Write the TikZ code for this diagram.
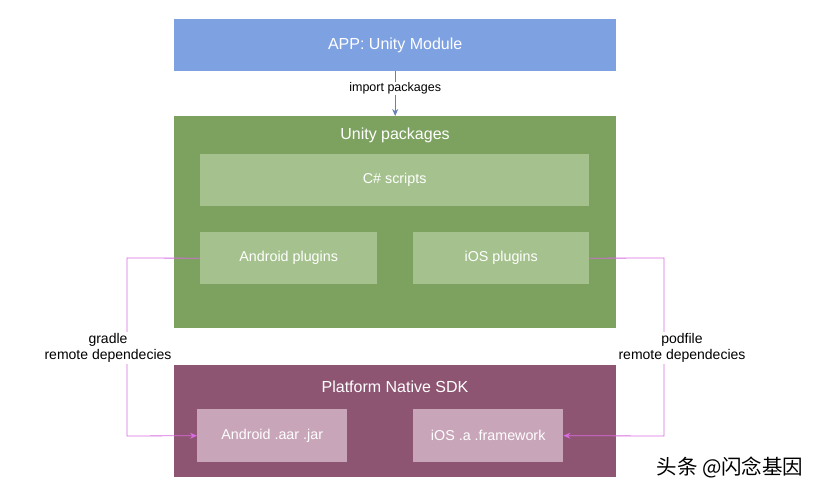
\documentclass[tikz,border=0pt]{standalone}
\usepackage{fontspec}
\setmainfont{Liberation Sans}
\newfontfamily\cjk{Noto Sans CJK SC}
\usetikzlibrary{arrows.meta}
\definecolor{appc}{HTML}{7EA1E2}
\definecolor{grn}{HTML}{7DA15F}
\definecolor{lgrn}{HTML}{A5C28E}
\definecolor{pur}{HTML}{8E5572}
\definecolor{lpur}{HTML}{C8A5B8}
\definecolor{mag}{HTML}{D86BE0}
\begin{document}
\begin{tikzpicture}[x=1pt,y=-1pt,
  box/.style={draw=none,anchor=north west,inner sep=0,text=white,font=\fontsize{14.3}{16}\selectfont},
  ttl/.style={text=white,font=\fontsize{16}{19}\selectfont},
  lbl/.style={fill=white,inner sep=1pt,align=center,font=\fontsize{14}{16}\selectfont},
  conn/.style={draw=mag,line width=0.8pt,-{Stealth[length=7pt,width=6pt]}}]
\useasboundingbox (0,0) rectangle (820,494);
\node[box,fill=appc,minimum width=442,minimum height=52,font=\fontsize{16}{19}\selectfont] (app) at (174,19) {APP: Unity Module};
\node[box,fill=grn,minimum width=442,minimum height=212] (unity) at (174,116) {};
\node[ttl] (ut) at (395,135) {Unity packages};
\node[box,fill=lgrn,minimum width=389,minimum height=52] (cs) at (200,154) {C\# scripts};
\node[box,fill=lgrn,minimum width=177,minimum height=52] (ap) at (200,232) {Android plugins};
\node[box,fill=lgrn,minimum width=176,minimum height=52] (ip) at (413,232) {iOS plugins};
\node[box,fill=pur,minimum width=442,minimum height=112] (sdk) at (174,365) {};
\node[ttl] (st) at (395,387) {Platform Native SDK};
\node[box,fill=lpur,minimum width=150,minimum height=53] (aa) at (197,409) {Android .aar .jar};
\node[box,fill=lpur,minimum width=150,minimum height=53] (ia) at (413,409) {iOS .a .framework};
\draw[draw=appc!80!black,line width=0.8pt,-{Stealth[length=7pt,width=6pt]}] (app.south) -- (unity.north) node[pos=0.38,lbl,font=\fontsize{12.5}{14}\selectfont] (imp) {import packages};
\coordinate (l1) at (127,258); \coordinate (l2) at (127,436);
\coordinate (r1) at (664,258); \coordinate (r2) at (664,436);
\draw[conn] (ap.west) -- (l1) -- (l2) -- (aa.west);
\draw[conn] (ip.east) -- (r1) -- (r2) -- (ia.east);
\node[lbl] (gl) at (108,348) {gradle\\remote dependecies};
\node[lbl] (pl) at (682,348) {podfile\\remote dependecies};
\node[font=\cjk\fontsize{20.5}{22}\selectfont] (wm) at (730,467) {头条 @闪念基因};
\end{tikzpicture}
\end{document}
